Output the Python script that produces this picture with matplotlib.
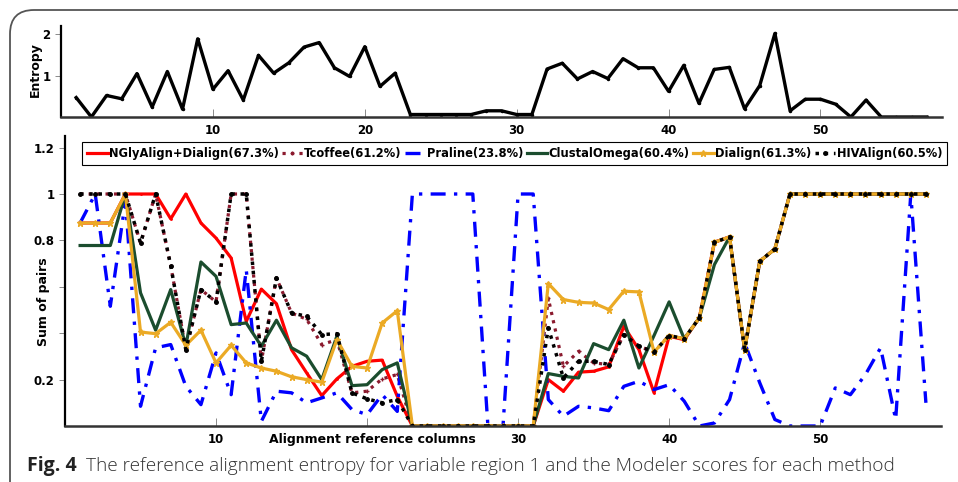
import numpy as np
import matplotlib.pyplot as plt
from matplotlib.patches import FancyBboxPatch

# alignment columns 1..57
columns = list(range(1, 58))

entropy = [0.47, 0.0, 0.52, 0.44, 1.05, 0.24, 1.1, 0.19, 1.89, 0.67,
           1.12, 0.41, 1.49, 1.06, 1.31, 1.69, 1.8, 1.19, 0.98, 1.7,
           0.74, 1.06, 0.06, 0.06, 0.06, 0.06, 0.06, 0.15, 0.15, 0.06,
           0.06, 1.16, 1.3, 0.92, 1.1, 0.93, 1.41, 1.19, 1.19, 0.62,
           1.25, 0.33, 1.15, 1.2, 0.2, 0.76, 2.02, 0.15, 0.43, 0.43,
           0.31, 0.0, 0.41, 0.0, 0.0, 0.0, 0.0]

nglyalign = [0.875, 0.875, 0.875, 1, 1, 1, 0.893, 1, 0.875, 0.81,
             0.724, 0.451, 0.59, 0.527, 0.329, 0.229, 0.131, 0.203, 0.257, 0.279,
             0.284, 0.128, 0, 0, 0, 0, 0, 0, 0, 0,
             0, 0.2, 0.15, 0.232, 0.236, 0.255, 0.43, 0.329, 0.143, 0.387,
             0.372, 0.466, 0.792, 0.815, 0.329, 0.71, 0.763, 1, 1, 1,
             1, 1, 1, 1, 1, 1, 1]

tcoffee = [1, 1, 1, 1, 0.789, 1, 0.691, 0.329, 0.588, 0.535,
           1, 1, 0.279, 0.638, 0.487, 0.46, 0.351, 0.372, 0.143, 0.15,
           0.203, 0.222, 0, 0, 0, 0, 0, 0, 0, 0,
           0, 0.55, 0.257, 0.322, 0.272, 0.265, 0.394, 0.344, 0.319, 0.39,
           0.376, 0.466, 0.792, 0.815, 0.329, 0.71, 0.763, 1, 1, 1,
           1, 1, 1, 1, 1, 1, 1]

praline = [0.875, 1.0, 0.516, 0.97, 0.085, 0.337, 0.351, 0.171, 0.092, 0.315,
           0.135, 0.674, 0.02, 0.15, 0.143, 0.1, 0.121, 0.143, 0.071, 0.049,
           0.135, 0.063, 1, 1, 1, 1, 1, 0, 0, 1,
           1, 0.114, 0.042, 0.085, 0.078, 0.066, 0.171, 0.193, 0.157, 0.178,
           0.107, 0, 0.013, 0.114, 0.358, 0.186, 0.028, 0, 0, 0,
           0.164, 0.135, 0.222, 0.337, 0.028, 1.0, 0.1]

clustal = [0.778, 0.778, 0.778, 1, 0.574, 0.413, 0.588, 0.344, 0.707, 0.645,
           0.437, 0.444, 0.344, 0.456, 0.337, 0.301, 0.2, 0.387, 0.174, 0.178,
           0.243, 0.272, 0, 0, 0, 0, 0, 0, 0, 0,
           0, 0.226, 0.214, 0.207, 0.355, 0.329, 0.456, 0.25, 0.39, 0.535,
           0.376, 0.466, 0.696, 0.815, 0.329, 0.71, 0.763, 1, 1, 1,
           1, 1, 1, 1, 1, 1, 1]

dialign = [0.875, 0.875, 0.875, 1, 0.405, 0.398, 0.447, 0.348, 0.413, 0.272,
           0.348, 0.272, 0.25, 0.236, 0.212, 0.2, 0.189, 0.372, 0.257, 0.25,
           0.444, 0.497, 0, 0, 0, 0, 0, 0, 0, 0,
           0, 0.614, 0.545, 0.533, 0.53, 0.502, 0.581, 0.578, 0.319, 0.39,
           0.376, 0.466, 0.792, 0.815, 0.329, 0.71, 0.763, 1, 1, 1,
           1, 1, 1, 1, 1, 1, 1]

hivalign = [1, 1, 1, 1, 0.789, 1, 0.691, 0.329, 0.588, 0.535,
            1, 1, 0.279, 0.638, 0.487, 0.473, 0.394, 0.398, 0.143, 0.117,
            0.1, 0.114, 0, 0, 0, 0, 0, 0, 0, 0,
            0, 0.423, 0.207, 0.279, 0.279, 0.265, 0.394, 0.344, 0.319, 0.39,
            0.376, 0.466, 0.792, 0.815, 0.329, 0.71, 0.763, 1, 1, 1,
            1, 1, 1, 1, 1, 1, 1]

labels = ["NGlyAlign+Dialign(67.3%)", "Tcoffee(61.2%)", "Praline(23.8%)",
          "ClustalOmega(60.4%)", "Dialign(61.3%)", "HIVAlign(60.5%)"]

plt.rcParams['font.family'] = ['DejaVu Sans']
plt.rcParams['font.weight'] = 'bold'

fig = plt.figure(figsize=(9.58, 4.82), dpi=100)

# rounded frame around the figure (only top and left edges fall inside)
frame = FancyBboxPatch((10 / 958, -0.5), 1.2, 0.5 + 472 / 482, transform=fig.transFigure,
                       boxstyle="round,pad=0,rounding_size=0.025",
                       fill=False, edgecolor="#555555", linewidth=1.3,
                       mutation_aspect=958 / 482)
fig.patches.append(frame)


def style_axes(ax):
    for s in ("top", "right"):
        ax.spines[s].set_visible(False)
    ax.spines["left"].set_linewidth(1.6)
    ax.spines["bottom"].set_linewidth(1.8)
    ax.spines["bottom"].set_color("#333333")
    ax.tick_params(axis="x", direction="in", length=6, width=0.6, color="#777777",
                   labelsize=8.5, pad=5)
    ax.tick_params(axis="y", direction="out", length=4, width=0.6, color="#777777",
                   labelsize=8.5)
    for lab in ax.get_xticklabels() + ax.get_yticklabels():
        lab.set_fontweight("bold")


# entropy panel
ax1 = fig.add_axes([61 / 958, 1 - 117 / 482, 881 / 958, 91 / 482])
ax1.plot(columns, entropy, color="black", linewidth=2.4, marker=".", markersize=3)
ax1.set_xlim(0, 58)
ax1.set_ylim(0, 2.2)
ax1.set_xticks([10, 20, 30, 40, 50])
ax1.set_yticks([1, 2])
ax1.set_ylabel("Entropy", fontsize=9, fontweight="bold")
ax1.yaxis.set_label_coords(-0.022, 0.52)
style_axes(ax1)

# sum-of-pairs panel
ax2 = fig.add_axes([65 / 958, 1 - 426 / 482, 876 / 958, 290 / 482])
ax2.plot(columns, nglyalign, color="#FF0000", linewidth=2.3, marker=".", markersize=2,
         label=labels[0])
ax2.plot(columns, tcoffee, color="#8B1A2E", linewidth=2.3, linestyle=":", marker="+",
         markersize=3, label=labels[1])
ax2.plot(columns, praline, color="#0000FF", linewidth=2.4, linestyle=(0, (4.5, 2.5, 1, 2.5)),
         label=labels[2])
ax2.plot(columns, clustal, color="#1B4D2E", linewidth=2.3, label=labels[3])
ax2.plot(columns, dialign, color="#EBAA25", linewidth=2.3, marker="*", markersize=5,
         label=labels[4])
ax2.plot(columns, hivalign, color="black", linewidth=2.5, linestyle=":", marker=".",
         markersize=5, label=labels[5])
ax2.set_xlim(0, 58)
ax2.set_ylim(0, 1.25)
ax2.set_xticks([10, 20, 30, 40, 50])
ax2.set_xticklabels(["10", "", "30", "40", "50"])
ax2.set_yticks([0.2, 0.4, 0.6, 0.8, 1.0, 1.2])
ax2.set_yticklabels(["0.2", "", "", "0.8", "1", "1.2"])
ax2.set_ylabel("Sum of pairs", fontsize=9, fontweight="bold")
ax2.yaxis.set_label_coords(-0.017, 0.43)
ax2.set_xlabel("Alignment reference columns", fontsize=9, fontweight="bold")
ax2.xaxis.set_label_coords(0.351, -0.025, transform=ax2.transAxes)
ax2.xaxis.label.set_verticalalignment("top")
style_axes(ax2)

leg = ax2.legend(loc="upper left", bbox_to_anchor=(0.019, 0.98), ncol=6,
                 prop={"size": 8.3, "weight": "bold"}, handlelength=1.8,
                 handletextpad=0.1, columnspacing=0.3, borderpad=0.45,
                 borderaxespad=0, fancybox=False, framealpha=1)
leg.get_frame().set_edgecolor("black")
leg.get_frame().set_linewidth(0.8)

# caption
fig.text(27 / 958, 1 - 466 / 482, "Fig. 4", fontsize=14, fontweight="bold",
         family="Open Sans", color="#222222", va="center")
fig.text(86 / 958, 1 - 466 / 482,
         "The reference alignment entropy for variable region 1 and the Modeler scores for each method",
         fontsize=13.7, fontweight="light", family="Open Sans", color="#333333", va="center")

fig.savefig("out.png", dpi=100)
